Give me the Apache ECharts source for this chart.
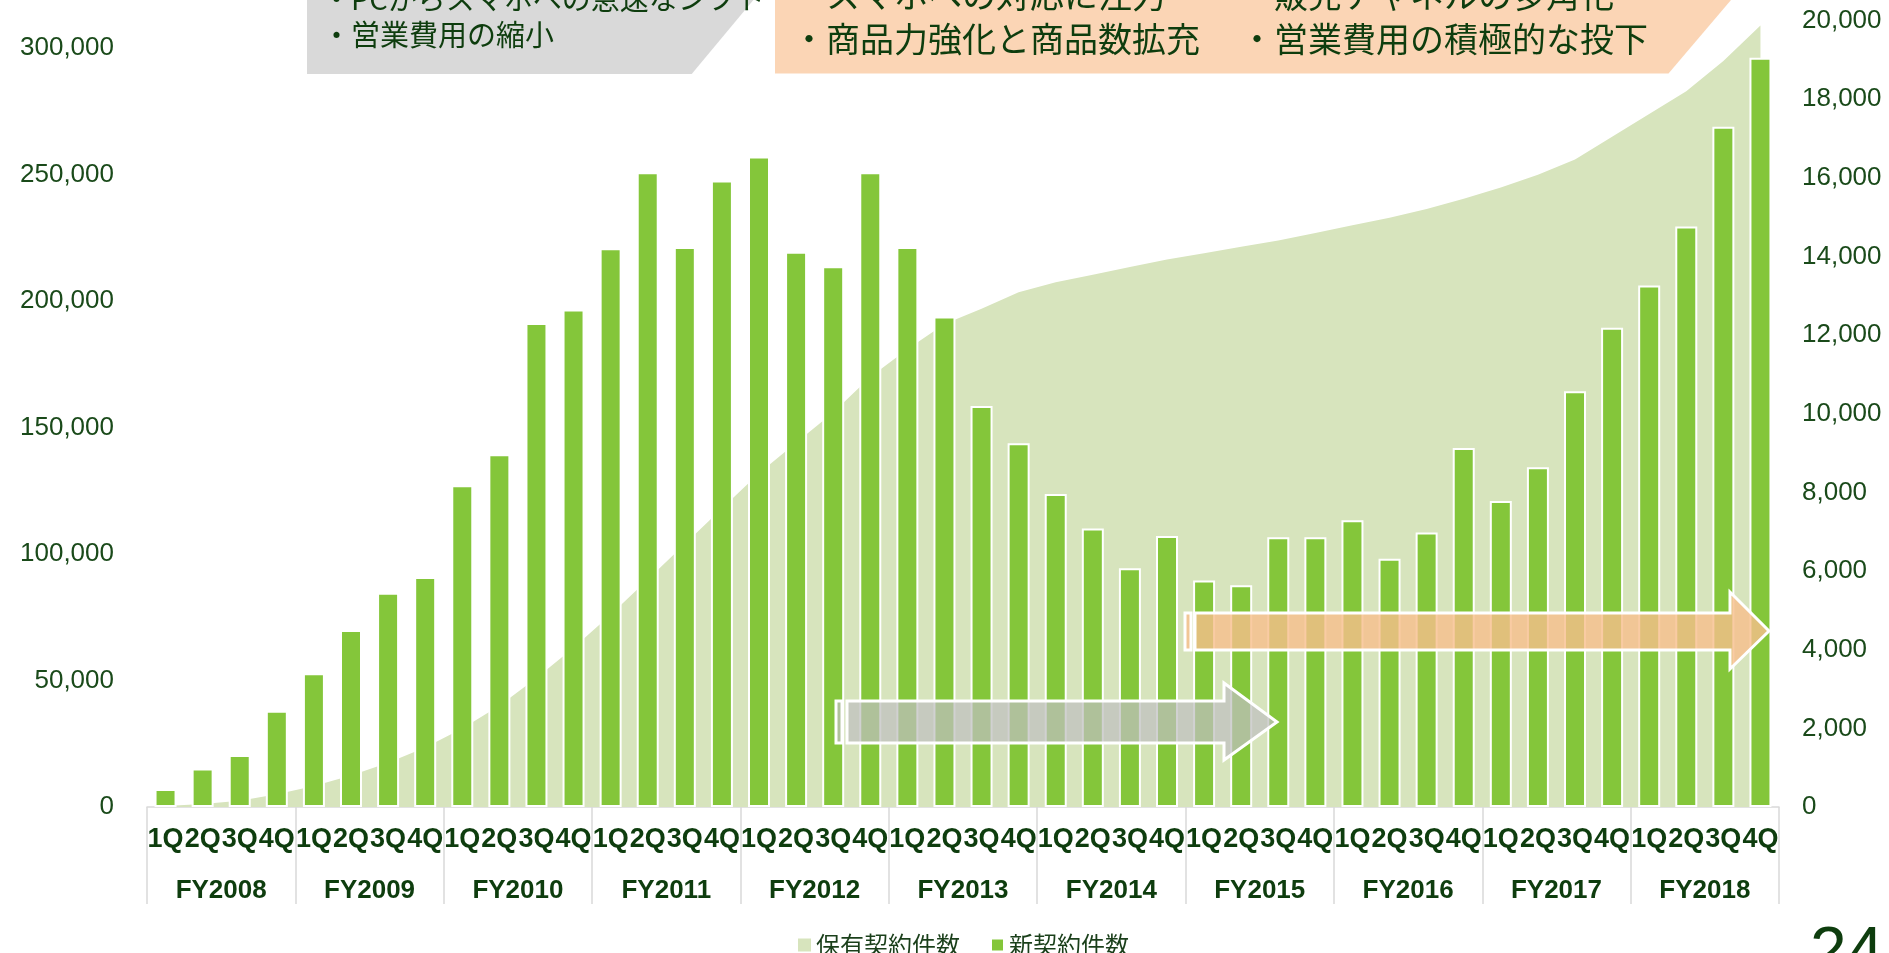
<!DOCTYPE html>
<html>
<head>
<meta charset="utf-8">
<script src="https://cdn.jsdelivr.net/npm/echarts@6/dist/echarts.min.js"></script>
<style>
html,body{margin:0;padding:0;background:#ffffff;}
#c{width:1889px;height:953px;}
</style>
</head>
<body>
<div id="c"></div>
<script>
// ---- data ----
const fiscalYears = ['FY2008','FY2009','FY2010','FY2011','FY2012','FY2013','FY2014','FY2015','FY2016','FY2017','FY2018'];
const quarterLabels = ['1Q','2Q','3Q','4Q'];
// 新契約件数 (right axis)
const newContracts = [
  460, 980, 1320, 2450,
  3400, 4500, 5450, 5850,
  8180, 8970, 12310, 12650,
  14210, 16140, 14240, 15930,
  16540, 14120, 13750, 16140,
  14240, 12470, 10200, 9250,
  7960, 7080, 6070, 6890,
  5760, 5640, 6860, 6860,
  7290, 6310, 6980, 9130,
  7780, 8640, 10570, 12190,
  13260, 14760, 17300, 19050
];
// 保有契約件数 (left axis)
const holdings = [
  400, 1200, 2500, 5000,
  8300, 12500, 17500, 23500,
  31000, 40000, 51000, 63000,
  76000, 90000, 104000, 118000,
  132000, 144000, 156000, 170000,
  181000, 191000, 197000, 203500,
  207500, 210500, 213500, 216500,
  219000, 221500, 224000, 227000,
  230000, 233000, 236500, 240500,
  245000, 250000, 256000, 265000,
  274000, 283000, 295000, 309000
];
const seriesNames = ['保有契約件数','新契約件数'];
const greyNotes = ['・PCからスマホへの急速なシフト','・営業費用の縮小'];
const orangeNotesA = ['・スマホへの対応に注力','・商品力強化と商品数拡充'];
const orangeNotesB = ['・販売チャネルの多角化','・営業費用の積極的な投下'];
const pageNumber = '24';

const categories = [];
fiscalYears.forEach(fy => quarterLabels.forEach(q => categories.push(fy + '|' + q)));

const DARK = '#0E3D0E';
const AXIS_TXT = '#1A4A1A';
const LATIN = "'Liberation Sans', Arial, sans-serif";
const JP = "'Noto Sans CJK JP', sans-serif";

const chart = echarts.init(document.getElementById('c'), null, {renderer: 'canvas'});

function txt(text, x, y, size, color) {
  return {
    type: 'text', x: x, y: y, z: 120,
    style: {text: text, fill: color || DARK, font: 'normal ' + size + 'px ' + JP, verticalAlign: 'middle', align: 'left'}
  };
}

const graphics = [
  // grey note box
  {type: 'polygon', z: 100, shape: {points: [[307,-20],[770,-20],[691.7,74],[307,74]]}, style: {fill: '#D9D9D9'}},
  txt(greyNotes[0], 322, -1, 29),
  txt(greyNotes[1], 322, 35, 29),
  // orange note box
  {type: 'polygon', z: 100, shape: {points: [[775,-20],[1748,-20],[1668.5,73.5],[775,73.5]]}, style: {fill: '#FBD5B5'}},
  txt(orangeNotesA[0], 792, -5, 34),
  txt(orangeNotesA[1], 792, 39, 34),
  txt(orangeNotesB[0], 1240, -5, 34),
  txt(orangeNotesB[1], 1240, 39, 34),
  // grey arrow
  {type: 'rect', z: 100, shape: {x: 836, y: 701, width: 6, height: 42},
   style: {fill: 'rgba(191,191,191,0.72)', stroke: '#ffffff', lineWidth: 3}},
  {type: 'polygon', z: 100,
   shape: {points: [[847,701],[1224,701],[1224,683],[1277,722],[1224,760],[1224,743],[847,743]]},
   style: {fill: 'rgba(191,191,191,0.72)', stroke: '#ffffff', lineWidth: 3, lineJoin: 'miter'}},
  // orange arrow
  {type: 'rect', z: 100, shape: {x: 1185, y: 613, width: 6, height: 37},
   style: {fill: 'rgba(247,190,140,0.8)', stroke: '#ffffff', lineWidth: 3}},
  {type: 'polygon', z: 100,
   shape: {points: [[1195,613],[1730,613],[1730,592],[1769,631],[1730,669],[1730,650],[1195,650]]},
   style: {fill: 'rgba(247,190,140,0.8)', stroke: '#ffffff', lineWidth: 3, lineJoin: 'miter'}},
  // page number
  {type: 'text', x: 1810, y: 955, z: 120,
   style: {text: pageNumber, fill: DARK, font: 'normal 66px ' + LATIN, verticalAlign: 'middle', align: 'left'}}
];

const option = {
  animation: false,
  backgroundColor: '#ffffff',
  grid: {left: 147, right: 110, top: 20.5, bottom: 146, containLabel: false},
  legend: {
    data: seriesNames,
    left: 793, top: 928,
    icon: 'rect', itemWidth: 13, itemHeight: 13, itemGap: 30,
    textStyle: {fontFamily: JP, fontSize: 24, color: '#1A3F1A'}
  },
  xAxis: [
    {
      type: 'category', data: categories, position: 'bottom',
      axisLine: {show: true, lineStyle: {color: '#D9D9D9', width: 1.5}},
      axisTick: {show: false},
      axisLabel: {interval: 0, margin: 19, fontFamily: LATIN, fontWeight: 'bold', fontSize: 27, color: DARK,
                  hideOverlap: false, formatter: v => v.split('|')[1]},
      splitLine: {show: false}
    },
    {
      type: 'category', data: fiscalYears, position: 'bottom',
      axisLine: {show: false},
      axisTick: {show: true, interval: 0, length: 97, lineStyle: {color: '#D9D9D9', width: 1.5}},
      axisLabel: {interval: 0, margin: 71, fontFamily: LATIN, fontWeight: 'bold', fontSize: 26, color: DARK},
      splitLine: {show: false}
    }
  ],
  yAxis: [
    {
      type: 'value', position: 'left', min: 0, max: 311000, interval: 50000,
      axisLine: {show: false}, axisTick: {show: false}, splitLine: {show: false},
      axisLabel: {margin: 33, fontFamily: LATIN, fontSize: 26, color: AXIS_TXT, showMaxLabel: false,
                  formatter: v => (v % 50000 === 0 ? v.toLocaleString('en-US') : '')}
    },
    {
      type: 'value', position: 'right', min: 0, max: 20000, interval: 2000,
      axisLine: {show: false}, axisTick: {show: false}, splitLine: {show: false},
      axisLabel: {margin: 23, fontFamily: LATIN, fontSize: 26, color: AXIS_TXT,
                  formatter: v => v.toLocaleString('en-US')}
    }
  ],
  series: [
    {
      name: seriesNames[0], type: 'line', xAxisIndex: 0, yAxisIndex: 0, data: holdings,
      symbol: 'none', color: '#D7E4BD',
      lineStyle: {width: 0, color: '#D7E4BD'},
      itemStyle: {color: '#D7E4BD'},
      areaStyle: {color: '#D7E4BD', opacity: 1},
      z: 1
    },
    {
      name: seriesNames[1], type: 'bar', xAxisIndex: 0, yAxisIndex: 1, data: newContracts,
      barWidth: 22, color: '#84C63A',
      itemStyle: {color: '#84C63A', borderColor: '#ffffff', borderWidth: 2},
      z: 2
    }
  ],
  graphic: graphics
};
chart.setOption(option);
</script>
</body>
</html>
